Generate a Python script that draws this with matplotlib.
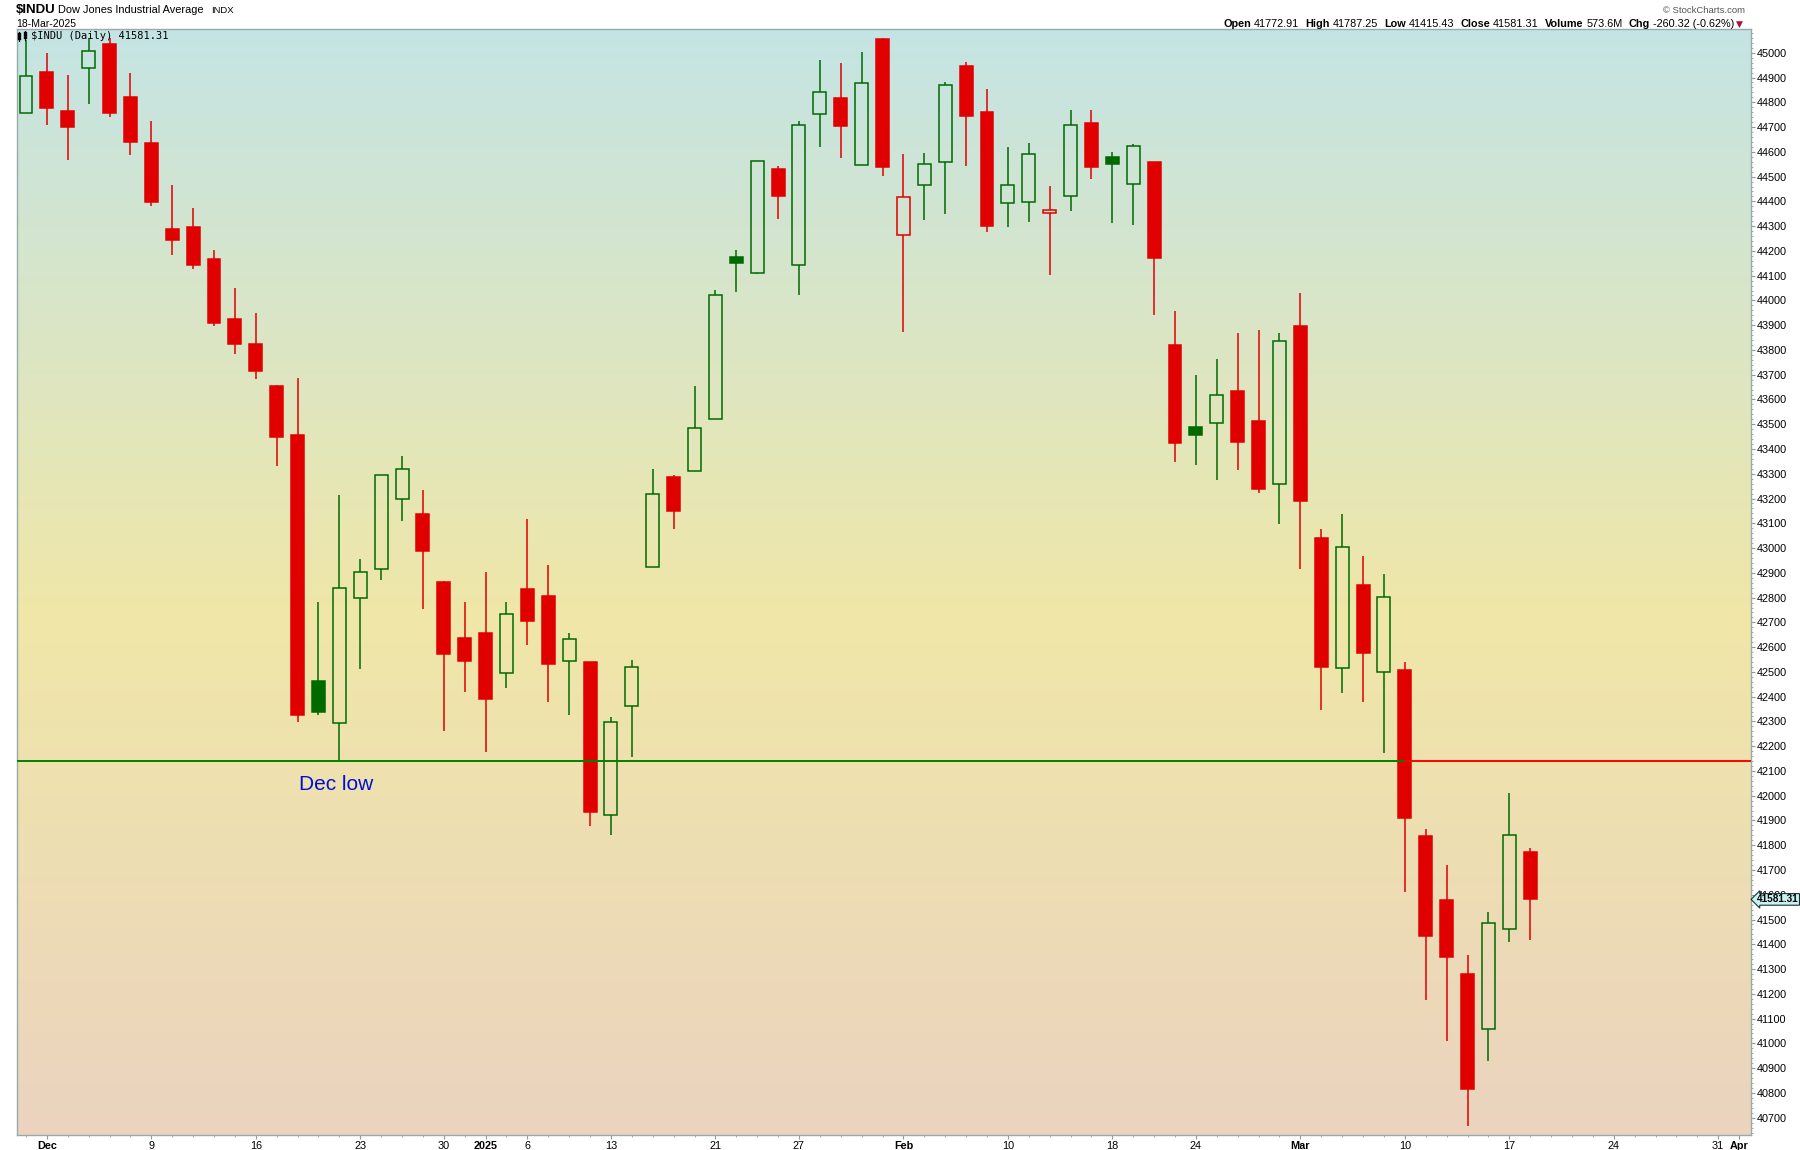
import numpy as np
import matplotlib.pyplot as plt
from matplotlib.colors import LinearSegmentedColormap
from matplotlib.lines import Line2D
from matplotlib.ticker import MultipleLocator, FixedLocator


# daily candles, 29-Nov-2024 .. 18-Mar-2025
OPENS = [44755, 44921, 44764, 44938, 45035, 44821, 44635, 44287, 44298, 44167,
         43927, 43824, 43655, 43458, 42464, 42295, 42798, 42915, 43198, 43138,
         42864, 42636, 42659, 42495, 42835, 42807, 42542, 42539, 41924, 42364,
         42924, 43287, 43313, 43523, 44175, 44110, 44532, 44144, 44752, 44818,
         44547, 45055, 44264, 44467, 44558, 44947, 44761, 44393, 44398, 44353,
         44421, 44718, 44581, 44472, 44558, 43818, 43490, 43504, 43635, 43513,
         43258, 43898, 43039, 42516, 42850, 42501, 42507, 41839, 41578, 41281,
         41058, 41461, 41772.91]
HIGHS = [45050, 44998, 44909, 45055, 45058, 44918, 44724, 44467, 44372, 44204,
         44049, 43949, 43660, 43687, 42783, 43215, 42955, 43297, 43373, 43235,
         42866, 42781, 42904, 42781, 43116, 42930, 42656, 42541, 42319, 42548,
         43321, 43296, 43653, 44043, 44204, 44565, 44544, 44724, 44972, 44958,
         45004, 45060, 44592, 44595, 44881, 44964, 44855, 44621, 44635, 44464,
         44767, 44767, 44601, 44632, 44560, 43958, 43698, 43764, 43867, 43881,
         43867, 44030, 43079, 43136, 42970, 42896, 42539, 41865, 41721, 41358,
         41530, 42013, 41787.25]
LOWS = [44755, 44707, 44569, 44795, 44741, 44589, 44381, 44184, 44127, 43898,
        43784, 43684, 43332, 42298, 42327, 42139, 42512, 42870, 43110, 42755,
        42260, 42418, 42175, 42435, 42610, 42378, 42327, 41876, 41841, 42156,
        42924, 43078, 43313, 43523, 44035, 44106, 44327, 44021, 44618, 44575,
        44547, 44501, 43872, 44324, 44350, 44541, 44275, 44295, 44315, 44101,
        44361, 44492, 44312, 44304, 43941, 43347, 43335, 43275, 43315, 43221,
        43098, 42915, 42347, 42416, 42378, 42172, 41613, 41175, 41009, 40667,
        40929, 41409, 41415.43]
CLOSES = [44907, 44775, 44701, 45009, 44758, 44638, 44398, 44244, 44144, 43910,
          43824, 43715, 43450, 42327, 42338, 42838, 42904, 43295, 43321, 42989,
          42572, 42542, 42390, 42732, 42707, 42530, 42633, 41936, 42296, 42519,
          43219, 43150, 43484, 44023, 44152, 44561, 44421, 44710, 44843, 44704,
          44878, 44538, 44418, 44550, 44869, 44744, 44301, 44467, 44592, 44367,
          44710, 44538, 44550, 44624, 44170, 43424, 43456, 43618, 43427, 43238,
          43835, 43190, 42521, 43004, 42576, 42801, 41910, 41435, 41350, 40815,
          41487, 41841.63, 41581.31]
VOLUME = "573.6M"

TICK_IDX = [1, 6, 11, 16, 20, 22, 24, 28, 33, 37, 42, 47, 52, 56, 61, 66, 71, 76, 81, 82]
TICK_LABELS = ["Dec", "9", "16", "23", "30", "2025", "6", "13", "21", "27",
               "Feb", "10", "18", "24", "Mar", "10", "17", "24", "31", "Apr"]
BOLD_TICKS = ["Dec", "2025", "Feb", "Mar", "Apr"]
N_SLOTS = 83          # trading days up to 1-Apr

DEC_LOW = 42140
BREAK_IDX = 66        # 10-Mar, the day the Dec low gave way

RED = "#e00000"
GREEN = "#006a00"
W, H = 1800, 1150


def px(x, y):
    return x / W, 1 - y / H


fig = plt.figure(figsize=(W / 100, H / 100), dpi=100)
ax = fig.add_axes([17 / W, 1 - 1135 / H, (1751 - 17) / W, (1135 - 29) / H])

bg = LinearSegmentedColormap.from_list(
    "bg", [(0, "#ebd3bf"), (0.47, "#f0e7a8"), (1, "#c4e4e4")])
ax.imshow(np.linspace(0, 1, 256).reshape(-1, 1), cmap=bg, aspect="auto",
          extent=[0, 1, 0, 1], transform=ax.transAxes, origin="lower", zorder=0)

o, h, l, c = (np.array(v, dtype=float) for v in (OPENS, HIGHS, LOWS, CLOSES))
x = np.arange(len(c))
prev = np.r_[o[0], c[:-1]]
col = np.where(c >= prev, GREEN, RED)
filled = c < o
top = np.maximum(o, c)
bot = np.minimum(o, c)

ax.vlines(x, top, h, colors=col, lw=1.1, zorder=3)
ax.vlines(x, l, bot, colors=col, lw=1.1, zorder=3)
face = [cc if f else "none" for cc, f in zip(col, filled)]
ax.bar(x, np.maximum(top - bot, 8), bottom=bot, width=0.62,
       facecolor=face, edgecolor=col, linewidth=1.1, zorder=3)

xl = (-0.43, 82.57)
ax.hlines(DEC_LOW, xl[0], BREAK_IDX, color="#008000", lw=1.4, zorder=4)
ax.hlines(DEC_LOW, BREAK_IDX, xl[1], color="#ff0000", lw=1.4, zorder=4)
ax.text(13.05, 42084, "Dec low", color="#0010d0", fontsize=15,
        family="Liberation Sans", va="top", ha="left", zorder=5)

ax.set_xlim(*xl)
ax.set_ylim(40630, 45096)

# axes cosmetics
for s in ax.spines.values():
    s.set_color("#97abab")
    s.set_linewidth(1)
ax.yaxis.tick_right()
ax.yaxis.set_major_locator(MultipleLocator(100))
ax.yaxis.set_minor_locator(MultipleLocator(20))
ax.yaxis.set_major_formatter(lambda v, p: f"{v:.0f}")
ax.tick_params(axis="y", which="major", length=3, width=0.8, color="#8a9c9c",
               pad=1, labelsize=7.8, labelfontfamily="Liberation Sans")
ax.tick_params(axis="y", which="minor", length=1.5, width=0.6, color="#8a9c9c")

ax.xaxis.set_major_locator(FixedLocator(TICK_IDX))
ax.xaxis.set_minor_locator(FixedLocator(range(N_SLOTS)))
ax.set_xticklabels(TICK_LABELS)
ax.tick_params(axis="x", which="major", length=3, width=0.8, color="#8a9c9c",
               pad=1, labelsize=7.8)
ax.tick_params(axis="x", which="minor", length=1.5, width=0.6, color="#8a9c9c")
for t in ax.get_xticklabels():
    t.set_family(["Liberation Sans Narrow", "Liberation Sans"])
    if t.get_text() in BOLD_TICKS:
        t.set_fontweight("bold")

# last price tag on the price axis
ax.text(1.0035, c[-1], f"{c[-1]:.2f}", transform=ax.get_yaxis_transform(),
        fontsize=7.2, fontweight="bold", family="Liberation Sans",
        ha="left", va="center", zorder=10, clip_on=False,
        bbox=dict(boxstyle="larrow,pad=0.08", fc="#c9f1f1", ec="#1a3030", lw=0.8))

# in-chart legend with small candle icon
for ix, y0, y1, b0, b1 in [(19, 32, 41, 34, 38), (25, 31, 40, 33, 37)]:
    fig.add_artist(Line2D([ix / W] * 2, [1 - y0 / H, 1 - y1 / H], color="black", lw=0.8))
    fig.add_artist(Line2D([ix / W] * 2, [1 - b0 / H, 1 - b1 / H], color="black", lw=2.4))
fig.text(*px(31, 39), f"$INDU (Daily) {c[-1]:.2f}", fontsize=7.5,
         family="DejaVu Sans Mono", va="baseline", ha="left")

# header, left
fig.text(*px(16, 13), "$INDU", fontsize=9.5, fontweight="bold",
         family="Liberation Sans", va="baseline")
fig.text(*px(58, 13), "Dow Jones Industrial Average", fontsize=7.9,
         family="Liberation Sans", va="baseline")
fig.text(*px(211, 13), "INDX", fontsize=6.8, family="Liberation Sans", va="baseline")
fig.text(*px(16, 27), "18-Mar-2025", fontsize=7.5, family="Liberation Sans",
         va="baseline")

# header, right
fig.text(*px(1745, 13), "\u00a9 StockCharts.com", fontsize=6.8, color="#555555",
         family="Liberation Sans", ha="right", va="baseline")

chg = c[-1] - c[-2]
pct = chg / c[-2] * 100
pieces = [("Open", True), (f"{o[-1]:.2f}", False), ("High", True), (f"{h[-1]:.2f}", False),
          ("Low", True), (f"{l[-1]:.2f}", False), ("Close", True), (f"{c[-1]:.2f}", False),
          ("Volume", True), (VOLUME, False), ("Chg", True),
          (f"{chg:.2f} ({pct:.2f}%)", False)]
r = fig.canvas.get_renderer()
xr = 1743
t = fig.text(*px(xr, 27), "\u25bc", fontsize=6.5, color="#b01030",
             family="DejaVu Sans", ha="right", va="baseline")
xr -= t.get_window_extent(r).width + 2
for txt, bold in reversed(pieces):
    t = fig.text(*px(xr, 27), txt, fontsize=7.8, family="Liberation Sans",
                 fontweight="bold" if bold else "normal", ha="right", va="baseline")
    xr -= t.get_window_extent(r).width + (3 if not bold else 6)

fig.savefig("out.png", dpi=100, facecolor="white")
